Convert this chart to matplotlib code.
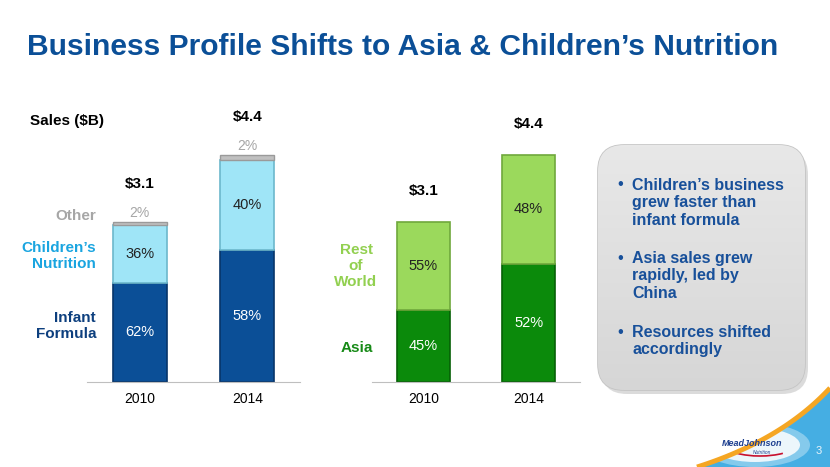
import matplotlib.pyplot as plt
import numpy as np
from matplotlib.patches import FancyBboxPatch, Polygon, Ellipse, Arc

plt.rcParams['font.family'] = ['Liberation Sans', 'DejaVu Sans']

years = ['2010', '2014']
sales = [3.1, 4.4]
infant = [62, 58]
children = [36, 40]
other = [2, 2]
asia = [45, 52]
rest = [55, 48]

bullets = [
    "Children\u2019s business\ngrew faster than\ninfant formula",
    "Asia sales grew\nrapidly, led by\nChina",
    "Resources shifted\naccordingly",
]

W, H = 830, 467
fig = plt.figure(figsize=(W / 100, H / 100), dpi=100)

# background layer in pixel coordinates
bg = fig.add_axes([0, 0, 1, 1], zorder=0)
bg.set_xlim(0, W)
bg.set_ylim(H, 0)
bg.axis('off')

title_blue = '#0b4f97'
bg.text(27, 47, "Business Profile Shifts to Asia & Children\u2019s Nutrition",
        fontsize=21.6, fontweight='bold', color=title_blue, va='center', ha='left')

# swoosh bottom right
t = np.linspace(0, 1, 60)
p0, p1, p2 = np.array([697, 467]), np.array([782, 440]), np.array([830, 388])
curve = ((1 - t) ** 2)[:, None] * p0 + (2 * (1 - t) * t)[:, None] * p1 + (t ** 2)[:, None] * p2
blue_poly = np.vstack([curve, [[830, 467]]])
bg.add_patch(Polygon(blue_poly, closed=True, facecolor='#45aee3', edgecolor='none'))
bg.plot(curve[:, 0], curve[:, 1], color='#f5a623', lw=3.5, solid_capstyle='butt')
bg.add_patch(Ellipse((755, 445), 90, 34, facecolor='white', edgecolor='none', alpha=0.85))
bg.add_patch(Ellipse((755, 445), 110, 44, facecolor='white', edgecolor='none', alpha=0.35))
bg.add_patch(Arc((760, 445), 70, 22, theta1=20, theta2=160, color='#c8102e', lw=1.2))
bg.text(752, 444, 'MeadJohnson', fontsize=6.5, fontstyle='italic', fontweight='bold',
        color='#1d3f8f', ha='center', va='center')
bg.text(762, 452, 'Nutrition', fontsize=3.5, fontstyle='italic', color='#1d3f8f',
        ha='center', va='center')
bg.text(819, 451, '3', fontsize=8, color='#e8f4fb', ha='center', va='center')

# rounded info box with shadow and gradient
bg.add_patch(FancyBboxPatch((601, 149), 207, 245, boxstyle='round,pad=0,rounding_size=26',
                            facecolor='#9a9a9a', edgecolor='none', alpha=0.35))
box = FancyBboxPatch((598, 145), 207, 245, boxstyle='round,pad=0,rounding_size=26',
                     facecolor='#d9d9d9', edgecolor='#c4c4c4', lw=1.2)
bg.add_patch(box)
grad = np.linspace(0.91, 0.84, 100)[:, None] * np.ones((1, 10))
im = bg.imshow(np.dstack([grad, grad, grad]), extent=(598, 805, 390, 145),
               aspect='auto', zorder=1)
im.set_clip_path(box)
bg.set_xlim(0, W)
bg.set_ylim(H, 0)

text_blue = '#18509a'
for y, txt in zip([185, 258, 332], bullets):
    bg.text(617, y, '\u2022', fontsize=12, color=text_blue, va='center', ha='left', zorder=3)
    bg.text(632, y - 7, txt, fontsize=11.5, fontweight='bold', color=text_blue,
            va='top', ha='left', linespacing=1.2, zorder=3)

# category labels
bg.text(30, 121, 'Sales ($B)', fontsize=11, fontweight='bold', color='black', va='center')
bg.text(96, 216, 'Other', fontsize=11, fontweight='bold', color='#a6a6a6', ha='right', va='center')
bg.text(96, 256, 'Children\u2019s\nNutrition', fontsize=11, fontweight='bold', color='#1aa5e0',
        ha='right', va='center', linespacing=1.15)
bg.text(96, 326, 'Infant\nFormula', fontsize=11, fontweight='bold', color='#0d3f7e',
        ha='right', va='center', linespacing=1.15)
bg.text(356, 266, 'Rest\nof\nWorld', fontsize=11, fontweight='bold', color='#92d050',
        ha='center', va='center', linespacing=1.15)
bg.text(357, 348, 'Asia', fontsize=11, fontweight='bold', color='#178a17',
        ha='center', va='center')


def make_axes(x0, x1, xl):
    ax = fig.add_axes([x0 / W, (H - 382) / H, (x1 - x0) / W, 258 / H], zorder=2)
    ax.patch.set_alpha(0)
    ax.set_xlim(*xl)
    ax.set_ylim(0, 5)
    for s in ['top', 'right', 'left']:
        ax.spines[s].set_visible(False)
    ax.spines['bottom'].set_color('#bfbfbf')
    ax.set_yticks([])
    ax.set_xticks(range(len(years)))
    ax.set_xticklabels(years, fontsize=10)
    ax.tick_params(axis='x', length=0, pad=7)
    return ax


x = np.arange(len(years))
bw = 0.5

# left chart: by product
axl = make_axes(87, 300, (-0.49, 1.49))
inf_v = np.array(sales) * np.array(infant) / 100
chi_v = np.array(sales) * np.array(children) / 100
oth_v = np.array(sales) * np.array(other) / 100
axl.bar(x, inf_v, bw, color='#0b4f97', edgecolor='#07356a', lw=1.2)
axl.bar(x, chi_v, bw, bottom=inf_v, color='#9fe5f7', edgecolor='#6cb8cc', lw=1.2)
axl.bar(x, oth_v, bw, bottom=inf_v + chi_v, color='#c0c0c0', edgecolor='#9a9a9a', lw=1)
for i in x:
    axl.text(i, inf_v[i] / 2, f'{infant[i]}%', color='white', fontsize=10.5, ha='center', va='center')
    axl.text(i, inf_v[i] + chi_v[i] / 2, f'{children[i]}%', color='#222222', fontsize=10.5,
             ha='center', va='center')
    axl.annotate(f'{other[i]}%', (i, sales[i]), xytext=(0, 6.5), textcoords='offset points',
                 color='#a6a6a6', fontsize=10, ha='center', va='center')
    axl.annotate(f'${sales[i]}', (i, sales[i]), xytext=(0, 27.5), textcoords='offset points',
                 color='black', fontsize=11, fontweight='bold', ha='center', va='center')

# right chart: by region
axr = make_axes(372, 580, (-0.49, 1.49))
asia_v = np.array(sales) * np.array(asia) / 100
rest_v = np.array(sales) * np.array(rest) / 100
axr.bar(x, asia_v, bw, color='#0b8a0b', edgecolor='#066006', lw=1.2)
axr.bar(x, rest_v, bw, bottom=asia_v, color='#9bd95c', edgecolor='#6fa83c', lw=1.2)
for i in x:
    axr.text(i, asia_v[i] / 2, f'{asia[i]}%', color='white', fontsize=10.5, ha='center', va='center')
    axr.text(i, asia_v[i] + rest_v[i] / 2, f'{rest[i]}%', color='#222222', fontsize=10.5,
             ha='center', va='center')
    axr.annotate(f'${sales[i]}', (i, sales[i]), xytext=(0, 22), textcoords='offset points',
                 color='black', fontsize=11, fontweight='bold', ha='center', va='center')

fig.savefig('out.png', dpi=100)
